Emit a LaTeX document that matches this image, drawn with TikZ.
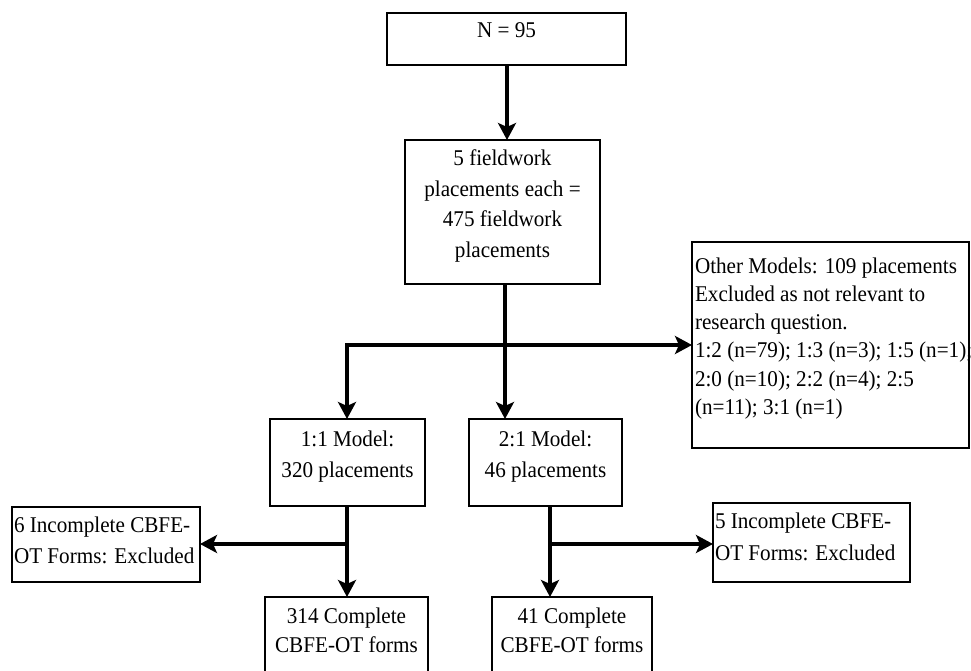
\documentclass[tikz,border=0pt]{standalone}
\usepackage{fontspec}
\setmainfont[FakeStretch=0.94]{Liberation Serif}
\usetikzlibrary{arrows.meta}
\newcommand{\bxc}[5]{\begin{minipage}[t][#2pt][t]{#1pt}\fontsize{22.5}{#4pt}\selectfont\centering\rule{0pt}{#3pt}#5\end{minipage}}
\newcommand{\bxl}[6]{\begin{minipage}[t][#2pt][t]{#1pt}\fontsize{22.5}{#4pt}\selectfont\raggedright\leftskip=#5pt\rule{0pt}{#3pt}#6\end{minipage}}
\tikzset{
  box/.style={draw, line width=2pt, inner sep=0pt, outer sep=0pt, anchor=north west, fill=white},
  link/.style={line width=3.8pt},
  arr/.style={line width=3.8pt, -{Stealth[length=17pt,width=18pt,inset=4pt]}}
}
\begin{document}
\begin{tikzpicture}[x=1pt,y=-1pt]
\useasboundingbox (0,0) rectangle (971,671);
\fill[white] (0,0) rectangle (971,671);
% boxes
\node[box] (top)  at (387,13)  {\bxc{239}{52}{25}{30}{N = 95}};
\node[box] (box2) at (405,140) {\bxc{195}{144}{26}{30.5}{5 fieldwork\\placements each =\\475 fieldwork\\placements}};
\node[box] (m11)  at (270,419) {\bxc{155}{87}{27}{31}{1:1 Model:\\320 placements}};
\node[box] (m21)  at (469,419) {\bxc{153}{87}{27}{31}{2:1 Model:\\46 placements}};
\node[box] (other) at (692,242) {\bxl{277}{206}{31}{28.3}{3}{Other Models: 109 placements\\Excluded as not relevant to\\research question.\\\mbox{1:2 (n=79); 1:3 (n=3); 1:5 (n=1);}\\2:0 (n=10); 2:2 (n=4); 2:5\\(n=11); 3:1 (n=1)}};
\node[box] (inc6) at (12,507)  {\bxl{188}{75}{25}{31}{2}{6 Incomplete CBFE-\\OT Forms: Excluded}};
\node[box] (inc5) at (713,503) {\bxl{197}{79}{25}{32}{2}{5 Incomplete CBFE-\\OT Forms: Excluded}};
\node[box] (c314) at (265,597) {\bxc{163}{100}{26}{29}{314 Complete\\CBFE-OT forms}};
\node[box] (c41)  at (492,597) {\bxc{160}{100}{26}{29}{41 Complete\\CBFE-OT forms}};
% junctions
\coordinate (t0) at (507,65);
\coordinate (j0) at (505,345);
\coordinate (j1) at (347,345);
\coordinate (j2) at (347,544);
\coordinate (j3) at (550,544);
% connectors
\draw[arr] (t0) -- (t0 |- box2.north);
\draw[link] (box2.south -| j0) -- (j0);
\draw[arr] (j0) -- (j0 |- m21.north);
\draw[arr] ([xshift=-1.9pt]j1) -- (j1 -| other.west);
\draw[arr] (j1) -- (j1 |- m11.north);
\draw[link] (m11.south -| j2) -- (j2);
\draw[arr] (j2) -- (j2 |- c314.north);
\draw[arr] ([xshift=1.9pt]j2) -- (j2 -| inc6.east);
\draw[link] (m21.south -| j3) -- (j3);
\draw[arr] (j3) -- (j3 |- c41.north);
\draw[arr] ([xshift=-1.9pt]j3) -- (j3 -| inc5.west);
\end{tikzpicture}
\end{document}
